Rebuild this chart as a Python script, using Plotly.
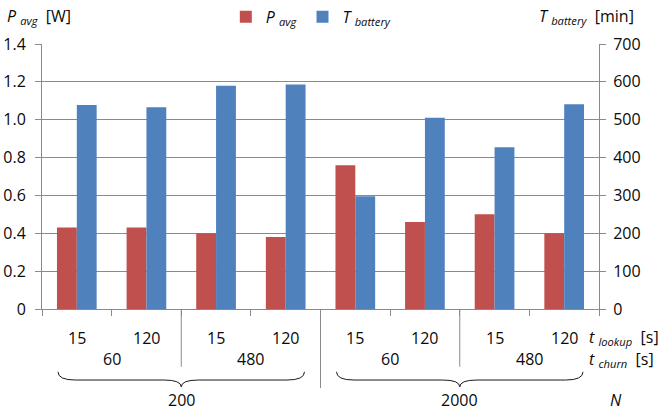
import plotly.graph_objects as go

# ---- data ----
t_lookup = ["15", "120", "15", "120", "15", "120", "15", "120"]
t_churn = ["60", "480", "60", "480"]
n_nodes = ["200", "2000"]
p_avg = [0.43, 0.43, 0.40, 0.38, 0.76, 0.46, 0.50, 0.40]
t_battery = [539, 533, 590, 593, 298, 505, 427, 541]
p_ticks = [0, 0.2, 0.4, 0.6, 0.8, 1.0, 1.2, 1.4]
p_ticktext = ["0", "0.2", "0.4", "0.6", "0.8", "1.0", "1.2", "1.4"]

RED = "#C0504D"
BLUE = "#4F81BD"
GRID = "#8A8A8A"
FONT = "Open Sans"

xs = list(range(len(t_lookup)))

fig = go.Figure()
fig.add_trace(go.Bar(
    x=xs, y=p_avg, name="<i>P</i> <sub><i>avg</i></sub>",
    marker=dict(color=RED, line=dict(width=0)), offsetgroup="p", yaxis="y"))
fig.add_trace(go.Bar(
    x=xs, y=t_battery, name="<i>T</i> <sub><i>battery</i></sub>",
    marker=dict(color=BLUE, line=dict(width=0)), offsetgroup="t", yaxis="y2"))

n = len(xs)
ann = []
for i, lab in enumerate(t_lookup):
    ann.append(dict(x=i, y=-0.109, xref="x", yref="paper", text=lab,
                    showarrow=False, xanchor="center", yanchor="middle"))
for j, lab in enumerate(t_churn):
    ann.append(dict(x=2 * j + 0.5, y=-0.189, xref="x", yref="paper", text=lab,
                    showarrow=False, xanchor="center", yanchor="middle"))
for k, lab in enumerate(n_nodes):
    ann.append(dict(x=4 * k + 1.5, y=-0.343, xref="x", yref="paper", text=lab,
                    showarrow=False, xanchor="center", yanchor="middle"))
ann.append(dict(x=0.978, y=-0.109, xref="paper", yref="paper",
                text="<i>t</i> <sub><i>lookup</i></sub>  [s]", showarrow=False,
                xanchor="left", yanchor="middle"))
ann.append(dict(x=0.978, y=-0.189, xref="paper", yref="paper",
                text="<i>t</i> <sub><i>churn</i></sub>  [s]", showarrow=False,
                xanchor="left", yanchor="middle"))
ann.append(dict(x=1.016, y=-0.343, xref="paper", yref="paper",
                text="<i>N</i>", showarrow=False, xanchor="left", yanchor="middle"))
ann.append(dict(x=-0.066, y=1.102, xref="paper", yref="paper",
                text="<i>P</i> <sub><i>avg</i></sub>  [W]", showarrow=False,
                xanchor="left", yanchor="middle"))
ann.append(dict(x=1.066, y=1.102, xref="paper", yref="paper",
                text="<i>T</i> <sub><i>battery</i></sub>  [min]", showarrow=False,
                xanchor="right", yanchor="middle"))

shapes = []
for j in range(len(t_churn)):
    if j % 2 == 0:
        xsep = 2 * j + 1.5
        shapes.append(dict(type="line", xref="x", yref="paper", x0=xsep, x1=xsep,
                           y0=0, y1=-0.218, line=dict(color=GRID, width=1)))
shapes.append(dict(type="line", xref="x", yref="paper", x0=3.5, x1=3.5,
                   y0=0, y1=-0.298, line=dict(color=GRID, width=1)))


def brace(x0, x1, ytop=-0.237, ymid=-0.268, ytip=-0.294, d=0.25):
    xc = (x0 + x1) / 2
    return (f"M {x0},{ytop} Q {x0},{ymid} {x0 + d},{ymid} "
            f"L {xc - d},{ymid} Q {xc},{ymid} {xc},{ytip} "
            f"Q {xc},{ymid} {xc + d},{ymid} "
            f"L {x1 - d},{ymid} Q {x1},{ymid} {x1},{ytop}")


for k in range(len(n_nodes)):
    x0 = 4 * k - 0.27
    x1 = 4 * k + 3.27
    shapes.append(dict(type="path", xref="x", yref="paper", path=brace(x0, x1),
                       line=dict(color="#1a1a1a", width=1)))

fig.update_layout(
    width=658, height=411,
    margin=dict(l=42, r=59, t=44, b=102, autoexpand=False),
    paper_bgcolor="white", plot_bgcolor="white",
    font=dict(family=FONT, size=16, color="#0a0a0a"),
    barmode="group", bargap=0.43, bargroupgap=0,
    showlegend=True,
    legend=dict(orientation="h", x=0.33, y=1.102, xanchor="left", yanchor="middle",
                font=dict(size=16), itemwidth=30, tracegroupgap=0,
                bgcolor="rgba(0,0,0,0)"),
    xaxis=dict(range=[-0.5, n - 0.5], tickmode="array",
               tickvals=[i - 0.5 for i in range(n + 1)], showticklabels=False,
               ticks="outside", ticklen=6, tickcolor=GRID, showgrid=False,
               showline=True, linecolor=GRID, linewidth=1, zeroline=False,
               automargin=False),
    yaxis=dict(range=[0, 1.4], tickmode="array", tickvals=p_ticks,
               ticktext=p_ticktext, showgrid=True,
               gridcolor=GRID, gridwidth=1, showline=True, linecolor=GRID,
               ticks="outside", ticklen=6, tickcolor=GRID, zeroline=False,
               ticklabelstandoff=6, automargin=False),
    yaxis2=dict(range=[0, 700], dtick=100, overlaying="y", side="right",
                showgrid=False, showline=True, linecolor=GRID, ticks="outside",
                ticklen=6, tickcolor=GRID, zeroline=False, ticklabelstandoff=4,
                automargin=False),
    annotations=ann,
    shapes=shapes,
)

fig.write_html(
    "out.html",
    config={"displayModeBar": False},
    post_script="document.body.style.margin='0';document.body.style.overflow='hidden';",
)
